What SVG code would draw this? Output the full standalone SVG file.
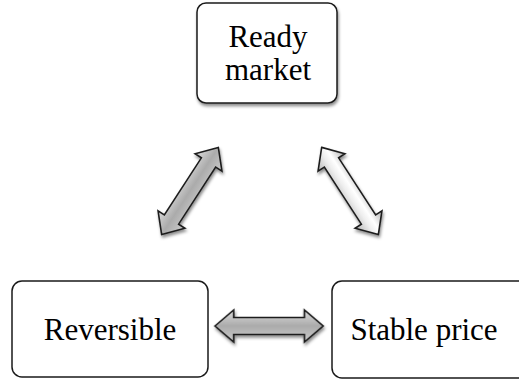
<svg xmlns="http://www.w3.org/2000/svg" width="519" height="381" viewBox="0 0 519 381">
  <style>
    .box { fill: #ffffff; stroke: #1a1a1a; stroke-width: 1.5; }
    .label { font-family: "Liberation Serif", "Times New Roman", serif; font-size: 31px; fill: #000000; text-anchor: middle; }
    .arrow { stroke: #1e1e1e; stroke-width: 1.6; stroke-linejoin: miter; }
  </style>
  <defs>
    <filter id="shadow" x="-20%" y="-20%" width="140%" height="150%">
      <feDropShadow dx="1" dy="2.5" stdDeviation="1.8" flood-color="#000000" flood-opacity="0.45"/>
    </filter>
    <linearGradient id="greyFill" x1="0" y1="0" x2="0" y2="1">
      <stop offset="0" stop-color="#dcdcdc"/>
      <stop offset="0.5" stop-color="#ababab"/>
      <stop offset="1" stop-color="#cccccc"/>
    </linearGradient>
    <linearGradient id="shineFill" x1="0" y1="0" x2="0" y2="1">
      <stop offset="0" stop-color="#b0b0b0"/>
      <stop offset="0.4" stop-color="#ffffff"/>
      <stop offset="0.6" stop-color="#eeeeee"/>
      <stop offset="1" stop-color="#b4b4b4"/>
    </linearGradient>
    <!-- double-headed block arrow, centred on the origin, pointing along x -->
    <path id="dblArrow" d="M -52 0 L -34 -16 L -34 -8.5 L 34 -8.5 L 34 -16 L 52 0 L 34 16 L 34 8.5 L -34 8.5 L -34 16 Z"/>
  </defs>

  <!-- nodes -->
  <g id="node-ready-market">
    <rect class="box" x="197" y="3" width="140" height="100" rx="9" filter="url(#shadow)"/>
    <text class="label" x="268" y="47">Ready</text>
    <text class="label" x="268" y="80">market</text>
  </g>
  <g id="node-reversible">
    <rect class="box" x="12" y="281" width="196" height="96" rx="10"/>
    <text class="label" x="110" y="340">Reversible</text>
  </g>
  <g id="node-stable-price">
    <rect class="box" x="332" y="281" width="200" height="97" rx="10"/>
    <text class="label" x="424" y="340">Stable price</text>
  </g>

  <!-- connectors -->
  <g id="connectors" filter="url(#shadow)">
    <use href="#dblArrow" class="arrow" fill="url(#greyFill)" transform="translate(190 191) rotate(-57)"/>
    <use href="#dblArrow" class="arrow" fill="url(#shineFill)" transform="translate(350 191) rotate(57)"/>
    <use href="#dblArrow" class="arrow" fill="url(#greyFill)" transform="translate(269 326) scale(1.04 1)"/>
  </g>
</svg>
